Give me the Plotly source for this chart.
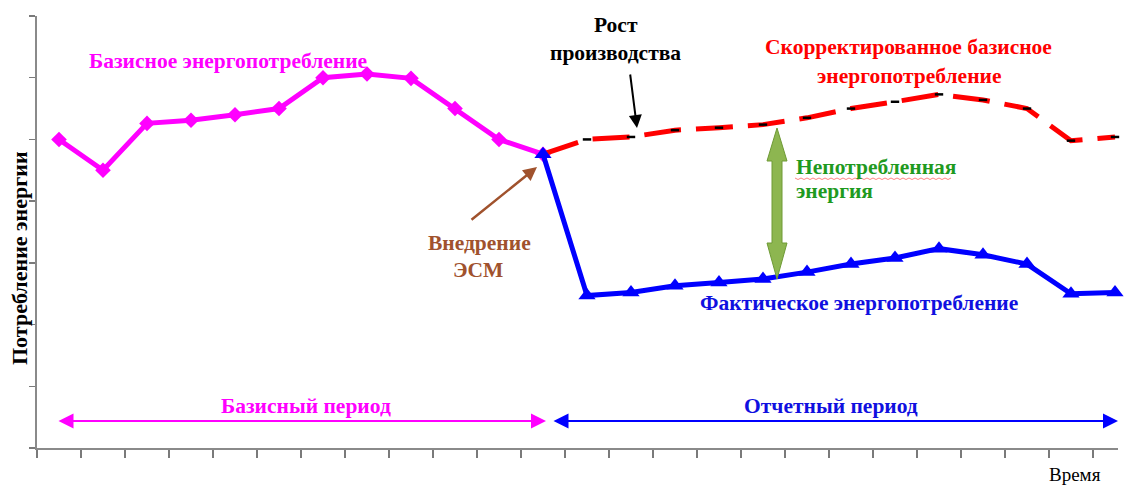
import plotly.graph_objects as go

# ---------------- data ----------------
base_idx = list(range(0, 12))
base_vals = [5.0, 4.5, 5.26, 5.31, 5.40, 5.50, 6.0, 6.06, 5.99, 5.50, 5.0, 4.76]

report_idx = list(range(11, 25))
adjusted_vals = [4.76, 5.0, 5.04, 5.15, 5.19, 5.24, 5.35, 5.50, 5.61, 5.73, 5.64, 5.50, 4.98, 5.04]
actual_vals = [4.76, 2.47, 2.52, 2.63, 2.68, 2.74, 2.85, 2.98, 3.08, 3.23, 3.13, 2.98, 2.50, 2.52]

n_ticks = 25

# ---------------- layout helpers (screen pixel -> coords) ----------------
W, H = 1127, 487
PL, PR, PT, PB = 37, 1118, 16, 448     # plot area in screen pixels
ML, MT = PL, PT
MR = W - PR
MB = H - PB
PW, PH = PR - PL, PB - PT
XMAX = PW / 44.0
YMAX = 7


def X(px):      # data x
    return (px - PL) / 44.0


def Y(py):      # data y
    return (PB - py) / (PH / YMAX)


def PXp(px):    # paper x
    return (px - PL) / PW


def PYp(py):    # paper y
    return (PB - py) / PH


SERIF = "Liberation Serif"
MAGENTA = "#ff00ff"
BLUE = "#0000ff"
RED = "#ff0000"
GREEN = "#1f9a1f"
BROWN = "#a0522d"

fig = go.Figure()

fig.add_trace(go.Scatter(
    x=[i + 0.5 for i in base_idx], y=base_vals, mode="lines+markers",
    line=dict(color=MAGENTA, width=5),
    marker=dict(symbol="diamond", size=12, color=MAGENTA),
    cliponaxis=False, showlegend=False, hoverinfo="skip"))

fig.add_trace(go.Scatter(
    x=[i + 0.5 for i in report_idx], y=adjusted_vals, mode="lines",
    line=dict(color=RED, width=5, dash="37px,15px"),
    cliponaxis=False, showlegend=False, hoverinfo="skip"))
fig.add_trace(go.Scatter(
    x=[i + 0.5 for i in report_idx[1:]], y=adjusted_vals[1:], mode="markers",
    marker=dict(symbol="line-ew", size=6, line=dict(color="black", width=2.5)),
    cliponaxis=False, showlegend=False, hoverinfo="skip"))

fig.add_trace(go.Scatter(
    x=[i + 0.5 for i in report_idx], y=actual_vals, mode="lines+markers",
    line=dict(color=BLUE, width=5),
    marker=dict(symbol="triangle-up", size=15, color=BLUE),
    cliponaxis=False, showlegend=False, hoverinfo="skip"))

ann = []


def text(t, px, py, color, size=21.5, bold=True, xanchor="center", angle=0,
         yanchor="middle"):
    ann.append(dict(
        x=PXp(px), y=PYp(py), xref="paper", yref="paper", showarrow=False,
        text=("<b>%s</b>" % t) if bold else t, xanchor=xanchor, yanchor=yanchor,
        textangle=angle, font=dict(family=SERIF, size=size, color=color)))


def arrow(x0, y0, x1, y1, color, width, size, both=False):
    ann.append(dict(
        x=PXp(x1), y=PYp(y1), xref="paper", yref="paper",
        ax=x0 - x1, ay=y0 - y1, axref="pixel", ayref="pixel",
        text="", showarrow=True,
        arrowhead=2, startarrowhead=2, arrowsize=size, startarrowsize=size,
        arrowwidth=width, arrowcolor=color,
        arrowside="end+start" if both else "end"))


text("Базисное энергопотребление", 228, 61, MAGENTA)
text("Рост", 616, 25, "black")
text("производства", 615, 53, "black")
text("Скорректированное базисное", 908, 47, RED)
text("энергопотребление", 909, 76, RED)
text("Непотребленная", 794, 167, GREEN, xanchor="left")
text("энергия", 794, 191, GREEN, xanchor="left")
text("Внедрение", 479, 243, BROWN)
text("ЭСМ", 478, 270, BROWN)
text("Фактическое энергопотребление", 859, 303, "#1010e0")
text("Базисный период", 306, 406, MAGENTA)
text("Отчетный период", 831, 406, "#1010e0")
text("Время", 1075, 487, "black", size=19, bold=False, yanchor="bottom")
text("Потребление энергии", 19, 258, "black", size=22, angle=-90)

arrow(630, 73, 637, 128, "black", 2, 1.3)
arrow(470, 221, 537, 167, BROWN, 2.5, 1.1)
arrow(57, 421, 546, 421, MAGENTA, 2, 1.5, both=True)
arrow(552, 421, 1118, 421, BLUE, 2, 1.5, both=True)

# green double arrow (unconsumed energy)
cx, top, hb1, hb2, bot = 777, 128, 161, 243, 279
hw, sw = 10, 5
pts = [(cx, top), (cx + hw, hb1), (cx + sw, hb1), (cx + sw, hb2), (cx + hw, hb2),
       (cx, bot), (cx - hw, hb2), (cx - sw, hb2), (cx - sw, hb1), (cx - hw, hb1)]
path = "M " + " L ".join("%.4f,%.4f" % (X(a), Y(b)) for a, b in pts) + " Z"
shapes = [dict(type="path", path=path, xref="x", yref="y",
               fillcolor="#8db650", line=dict(color="#6e9a35", width=1))]

# spell-check squiggle under "Непотребленная"
sq = []
xx = 795
k = 0
while xx <= 952:
    sq.append((xx, 178.5 + (1 if k % 2 else -0.5)))
    xx += 3
    k += 1
sq_path = "M " + " L ".join("%.4f,%.4f" % (X(a), Y(b)) for a, b in sq)
shapes.append(dict(type="path", path=sq_path, xref="x", yref="y",
                   line=dict(color="rgba(255,80,80,0.7)", width=1)))

fig.update_layout(
    width=W, height=H, margin=dict(l=ML, r=MR, t=MT, b=MB, pad=0),
    plot_bgcolor="white", paper_bgcolor="white",
    annotations=ann, shapes=shapes, showlegend=False,
    xaxis=dict(range=[0, XMAX], showgrid=False, zeroline=False,
               showline=True, linecolor="#8a8a8a", linewidth=2,
               ticks="outside", ticklen=8, tickwidth=1.5, tickcolor="#7a7a7a",
               tickmode="array", tickvals=list(range(n_ticks)), showticklabels=False),
    yaxis=dict(range=[0, YMAX], showgrid=False, zeroline=False,
               showline=True, linecolor="#8a8a8a", linewidth=2,
               ticks="outside", ticklen=6, tickwidth=1.5, tickcolor="#7a7a7a",
               tickmode="array", tickvals=list(range(YMAX + 1)), showticklabels=False),
)

fig.write_html(
    "out.html",
    config={"displayModeBar": False, "staticPlot": True},
    post_script="document.body.style.margin='0';document.body.style.overflow='hidden';",
)
